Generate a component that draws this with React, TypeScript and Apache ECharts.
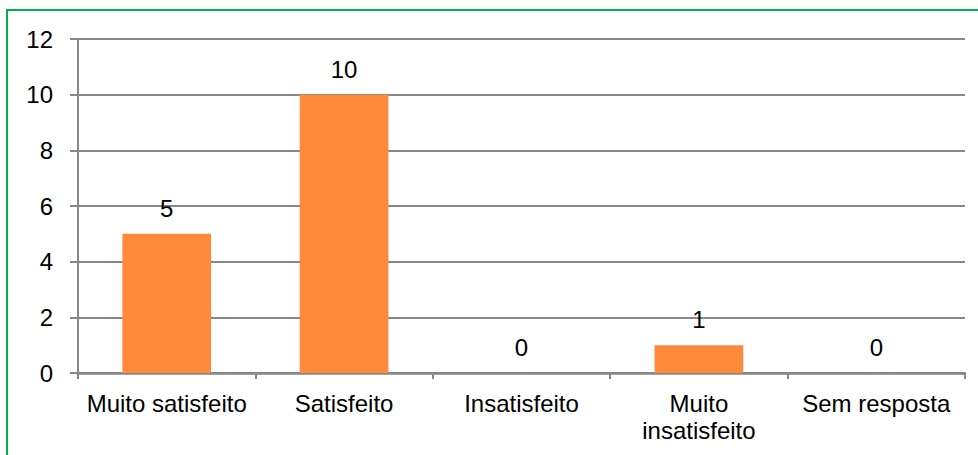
import React, { useEffect, useRef } from "react";
import * as echarts from "echarts";

// Respostas por nível de satisfação
const categories = [
  "Muito satisfeito",
  "Satisfeito",
  "Insatisfeito",
  "Muito insatisfeito",
  "Sem resposta",
];
const counts = [5, 10, 0, 1, 0];
const yTicks = { min: 0, max: 12, interval: 2 };

const FONT = "'Liberation Sans', Arial, sans-serif";
const GRID_GRAY = "#878787";
const BAR_ORANGE = "#FF8A3A";
const FRAME_GREEN = "#00B050";

export default function App() {
  const ref = useRef<HTMLDivElement>(null);

  useEffect(() => {
    if (!ref.current) return;
    const chart = echarts.init(ref.current, undefined, { renderer: "svg" });
    chart.setOption({
      animation: false,
      backgroundColor: "#ffffff",
      textStyle: { fontFamily: FONT },
      graphic: [
        {
          type: "rect",
          shape: { x: 7, y: 10, width: 1000, height: 500 },
          style: { fill: "none", stroke: FRAME_GREEN, lineWidth: 2 },
          silent: true,
          z: 100,
        },
      ],
      grid: { left: 78, right: 13, top: 39, bottom: 82, containLabel: false },
      xAxis: {
        type: "category",
        data: categories,
        axisLine: { lineStyle: { color: GRID_GRAY, width: 2.5 } },
        axisTick: {
          show: true,
          length: 6,
          alignWithLabel: false,
          lineStyle: { color: GRID_GRAY, width: 2 },
        },
        axisLabel: {
          margin: 17,
          color: "#000",
          fontFamily: FONT,
          fontSize: 24,
          lineHeight: 27,
          interval: 0,
          formatter: (v: string) =>
            v === "Muito insatisfeito" ? "Muito\ninsatisfeito" : v,
        },
      },
      yAxis: {
        type: "value",
        min: yTicks.min,
        max: yTicks.max,
        interval: yTicks.interval,
        axisLine: { show: true, lineStyle: { color: GRID_GRAY, width: 2 } },
        axisTick: { show: true, length: 8, lineStyle: { color: GRID_GRAY, width: 2 } },
        splitLine: { show: true, lineStyle: { color: GRID_GRAY, width: 2 } },
        axisLabel: {
          margin: 25,
          color: "#000",
          fontFamily: FONT,
          fontSize: 24,
        },
      },
      series: [
        {
          type: "bar",
          data: counts,
          barCategoryGap: "50%",
          itemStyle: { color: BAR_ORANGE },
          label: {
            show: true,
            position: "top",
            distance: 12,
            color: "#000",
            fontFamily: FONT,
            fontSize: 24,
            lineHeight: 27,
          },
        },
      ],
    });
    return () => chart.dispose();
  }, []);

  return (
    <div
      ref={ref}
      style={{ position: "fixed", left: 0, top: 0, width: 978, height: 455 }}
    />
  );
}
